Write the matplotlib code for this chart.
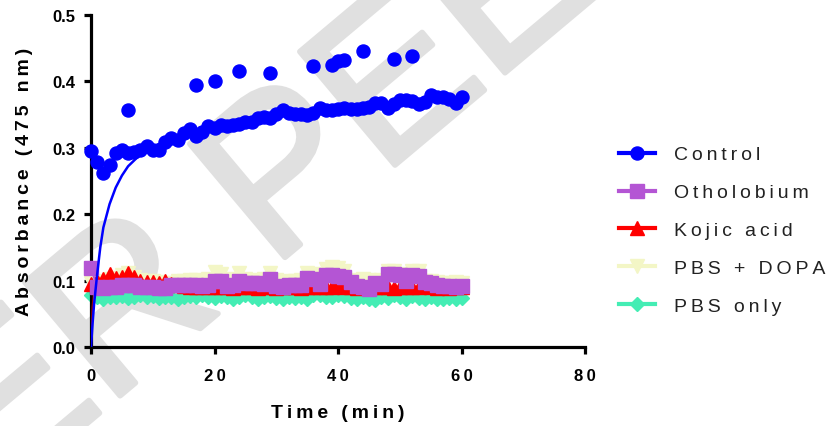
import numpy as np
import matplotlib.pyplot as plt
import matplotlib.patheffects as pe
from matplotlib.lines import Line2D

plt.rcParams['font.family'] = ['Liberation Sans', 'DejaVu Sans']

# time points (min), one reading per minute
time = list(range(61))

control = [0.295, 0.278, 0.262, 0.274, 0.292, 0.296, 0.292, 0.294, 0.296, 0.302,
           0.297, 0.296, 0.308, 0.314, 0.311, 0.322, 0.328, 0.318, 0.323, 0.332,
           0.330, 0.334, 0.333, 0.334, 0.336, 0.338, 0.339, 0.344, 0.346, 0.345,
           0.351, 0.356, 0.352, 0.351, 0.350, 0.349, 0.352, 0.359, 0.356, 0.357,
           0.358, 0.359, 0.358, 0.358, 0.360, 0.361, 0.367, 0.368, 0.359, 0.365,
           0.372, 0.372, 0.370, 0.366, 0.369, 0.380, 0.376, 0.376, 0.374, 0.367,
           0.376]
# second set of control readings (upper points)
control2_t = [6, 17, 20, 24, 29, 36, 39, 40, 41, 44, 49, 52]
control2 = [0.357, 0.395, 0.401, 0.416, 0.413, 0.423, 0.425, 0.430, 0.432, 0.446,
            0.433, 0.438]
# fitted curve for control
control_fit_t = [0, 0.25, 0.5, 1, 1.5, 2, 3, 4, 5, 6, 8, 10, 15, 20, 30, 40, 50, 60]
control_fit = [0.0, 0.035, 0.065, 0.11, 0.15, 0.18, 0.215, 0.24, 0.258, 0.272,
               0.29, 0.302, 0.32, 0.333, 0.35, 0.36, 0.368, 0.373]

otholobium = [0.119, 0.090, 0.089, 0.090, 0.090, 0.094, 0.094, 0.094, 0.091, 0.091,
              0.091, 0.089, 0.089, 0.094, 0.093, 0.094, 0.094, 0.093, 0.092, 0.093,
              0.100, 0.100, 0.092, 0.093, 0.100, 0.097, 0.096, 0.096, 0.095, 0.102,
              0.092, 0.091, 0.094, 0.093, 0.094, 0.104, 0.103, 0.095, 0.108, 0.108,
              0.107, 0.106, 0.098, 0.092, 0.091, 0.088, 0.096, 0.095, 0.110, 0.110,
              0.109, 0.099, 0.108, 0.107, 0.098, 0.097, 0.094, 0.092, 0.092, 0.091,
              0.092]

kojic = [0.095, 0.100, 0.102, 0.110, 0.104, 0.105, 0.112, 0.106, 0.100, 0.098,
         0.098, 0.097, 0.100, 0.095, 0.093, 0.092, 0.091, 0.090, 0.091, 0.090,
         0.090, 0.091, 0.090, 0.089, 0.090, 0.091, 0.090, 0.089, 0.090, 0.090,
         0.089, 0.090, 0.091, 0.090, 0.089, 0.090, 0.090, 0.091, 0.090, 0.091,
         0.093, 0.091, 0.090, 0.089, 0.090, 0.089, 0.090, 0.091, 0.090, 0.089,
         0.090, 0.091, 0.090, 0.091, 0.092, 0.090, 0.089, 0.090, 0.089, 0.090,
         0.090]
kojic_fit_t = [0, 0.2, 0.5, 1, 60]
kojic_fit = [0.0, 0.06, 0.085, 0.09, 0.09]

pbs_dopa = [0.096, 0.098, 0.100, 0.102, 0.104, 0.108, 0.111, 0.106, 0.101, 0.100,
            0.099, 0.098, 0.097, 0.097, 0.099, 0.100, 0.101, 0.101, 0.100, 0.103,
            0.113, 0.110, 0.101, 0.103, 0.111, 0.103, 0.101, 0.100, 0.103, 0.111,
            0.101, 0.098, 0.100, 0.099, 0.101, 0.112, 0.110, 0.101, 0.118, 0.120,
            0.119, 0.114, 0.101, 0.100, 0.103, 0.101, 0.099, 0.101, 0.115, 0.115,
            0.110, 0.101, 0.115, 0.114, 0.100, 0.099, 0.098, 0.097, 0.097, 0.098,
            0.097]

pbs_only = [0.078, 0.075, 0.073, 0.076, 0.075, 0.077, 0.074, 0.076, 0.078, 0.075,
            0.077, 0.074, 0.076, 0.075, 0.073, 0.076, 0.077, 0.075, 0.078, 0.076,
            0.074, 0.077, 0.075, 0.073, 0.076, 0.079, 0.076, 0.073, 0.075, 0.077,
            0.074, 0.072, 0.075, 0.074, 0.076, 0.073, 0.079, 0.078, 0.076, 0.075,
            0.079, 0.077, 0.074, 0.072, 0.076, 0.073, 0.071, 0.075, 0.074, 0.078,
            0.076, 0.073, 0.077, 0.074, 0.072, 0.076, 0.073, 0.072, 0.074, 0.073,
            0.074]

labels = ['Control', 'Otholobium', 'Kojic acid', 'PBS + DOPA', 'PBS only']
colors = ['#0000ff', '#b455d4', '#ff0000', '#f3f6c6', '#44edb4']
markers = ['o', 's', '^', 'v', 'D']


def spaced(s, sp='\u2009'):
    # mimic the wide letter spacing of the original
    return sp.join(s)


fig = plt.figure(figsize=(8.35, 4.27), dpi=100)

# watermark behind everything
fig.text(-0.432, -0.874, 'UNDER PEER REVIEW', fontsize=155, color='#e0e0e0',
         rotation=40, rotation_mode='anchor', ha='left', va='baseline', zorder=-1,
         path_effects=[pe.withStroke(linewidth=4, foreground='#e0e0e0')])

ax = fig.add_axes([0.109, 0.185, 0.592, 0.778])
ax.set_facecolor('none')

ms = 9.4
ax.plot(time, pbs_only, color=colors[4], marker='D', ms=ms / 1.41, lw=1.5, zorder=2, clip_on=False)
ax.plot(time, pbs_dopa, color=colors[3], marker='v', ms=ms, lw=1.5, zorder=3, clip_on=False)
ax.plot(kojic_fit_t, kojic_fit, color=colors[2], lw=1.2, alpha=0.6, zorder=3)
ax.plot(time, kojic, color=colors[2], marker='^', ms=ms, lw=1.5, zorder=4, clip_on=False)
ax.plot(time, otholobium, color=colors[1], marker='s', ms=ms, lw=1.5, zorder=5, clip_on=False)
ax.plot(control_fit_t, control_fit, color=colors[0], lw=1.8, zorder=6)
ax.plot(time, control, color=colors[0], marker='o', ms=ms, lw=0, zorder=7, clip_on=False)
ax.plot(control2_t, control2, color=colors[0], marker='o', ms=ms, lw=0, zorder=7)

ax.set_xlim(0, 80)
ax.set_ylim(0, 0.5)
ax.set_xticks([0, 20, 40, 60, 80])
ax.set_xticklabels([spaced(str(v)) for v in [0, 20, 40, 60, 80]])
ax.set_yticks([0, 0.1, 0.2, 0.3, 0.4, 0.5])
ax.set_yticklabels(['%.1f' % v for v in [0, 0.1, 0.2, 0.3, 0.4, 0.5]])
for s in ['top', 'right']:
    ax.spines[s].set_visible(False)
for s in ['left', 'bottom']:
    ax.spines[s].set_linewidth(2.3)
ax.tick_params(direction='out', length=5, width=2.3, labelsize=12, pad=6)
for lab in ax.get_xticklabels() + ax.get_yticklabels():
    lab.set_fontweight('bold')
ax.xaxis.set_tick_params(pad=10)

ax.set_xlabel(spaced('Time (min)'), fontsize=14, fontweight='bold', labelpad=15)
ax.set_ylabel(spaced('Absorbance (475 nm)'), fontsize=14, fontweight='bold', labelpad=14)

handles = []
for c, m in zip(colors, markers):
    handles.append(Line2D([], [], color=c, marker=m, lw=3,
                          ms=ms / 1.41 if m == 'D' else ms))
fig.legend(handles, [spaced(l) for l in labels], loc='upper left',
           bbox_to_anchor=(0.741, 0.656), frameon=False, fontsize=14,
           handlelength=1.85, handletextpad=1.0, labelspacing=1.04,
           borderpad=0, borderaxespad=0, labelcolor='#222222')

plt.savefig('out.png', dpi=100)
